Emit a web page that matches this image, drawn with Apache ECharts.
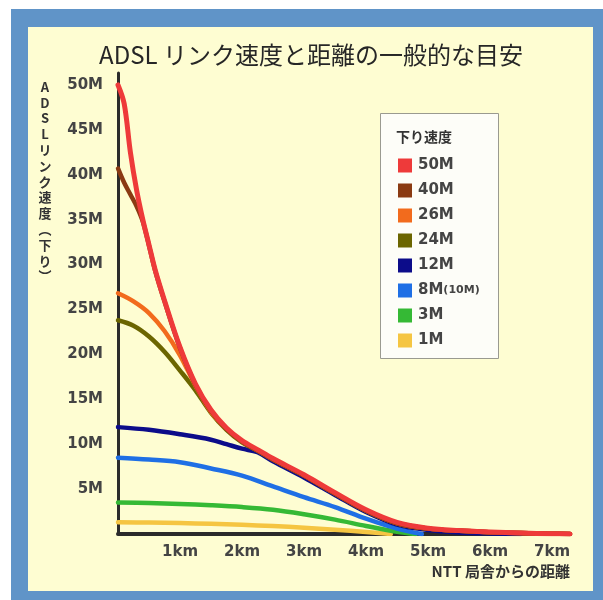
<!DOCTYPE html>
<html>
<head>
<meta charset="utf-8">
<script src="https://cdn.jsdelivr.net/npm/echarts@6/dist/echarts.min.js"></script>
<style>html,body{margin:0;padding:0;background:#fff;}#c{width:603px;height:600px;}</style>
</head>
<body>
<div id="c"></div>
<script>
const chartTitle = 'ADSL リンク速度と距離の一般的な目安';
const yAxisTitle = 'ADSLリンク速度︵下り︶';
const xAxisTitle = 'NTT 局舎からの距離';
const legendTitle = '下り速度';
const seriesNames = ['50M', '40M', '26M', '24M', '12M', '8M(10M)', '3M', '1M'];
const seriesColors = ['#ee3a3a', '#8a3a12', '#f26b1d', '#6b6500', '#0c0c8a', '#1f6fe5', '#35b935', '#f5c542'];

// [distance km, speed Mbps]
const s50M = [[0,50],[0.1,47.9],[0.2,42.5],[0.3,38.3],[0.4,35.0],[0.5,32.2],[0.6,29.4],[0.75,26.0],[1,20.8],[1.25,16.7],[1.5,13.8],[1.75,11.8],[2,10.4],[2.25,9.4],[2.5,8.4],[3,6.6],[3.5,4.6],[4,2.7],[4.5,1.3],[5,0.65],[5.5,0.38],[6,0.22],[6.5,0.1],[7,0.03],[7.29,0]];
const s40M = [[0,40.7],[0.1,39.1],[0.2,37.8],[0.3,36.5],[0.4,34.8],[0.5,32.1],[0.6,29.3],[0.75,25.9],[1,20.7],[1.25,16.6],[1.5,13.7],[1.75,11.7],[2,10.3],[2.25,9.3],[2.5,8.3],[3,6.5],[3.5,4.5],[4,2.6],[4.5,1.2],[5,0.6],[5.5,0.35],[6,0.2],[6.5,0.1],[7,0.03],[7.29,0]];
const s26M = [[0,26.8],[0.25,25.9],[0.5,24.6],[0.75,22.6],[1,19.9],[1.25,16.5],[1.5,13.6],[1.75,11.7],[2,10.3],[2.25,9.3],[2.5,8.3],[3,6.5],[3.5,4.5],[4,2.6],[4.5,1.2],[5,0.6],[5.5,0.35],[6,0.2],[6.5,0.1],[7,0.03],[7.29,0]];
const s24M = [[0,23.8],[0.25,23.2],[0.5,22.0],[0.75,20.3],[1,18.2],[1.25,16.0],[1.5,13.5],[1.75,11.6],[2,10.2],[2.25,9.3],[2.5,8.3],[3,6.5],[3.5,4.5],[4,2.6],[4.5,1.2],[5,0.6],[5.5,0.35],[6,0.2],[6.5,0.1],[7,0.03],[7.29,0]];
const s12M = [[0,11.9],[0.5,11.6],[1,11.1],[1.5,10.5],[1.75,10.0],[2,9.5],[2.25,9.1],[2.5,8.1],[3,6.3],[3.5,4.35],[4,2.45],[4.5,1.05],[5,0.45],[5.5,0.18],[6,0.06],[6.5,0]];
const s8M = [[0,8.5],[0.5,8.3],[1,8.0],[1.5,7.3],[2,6.5],[2.5,5.3],[3,4.1],[3.5,3.0],[4,1.7],[4.5,0.6],[4.9,0]];
const s3M = [[0,3.5],[0.5,3.45],[1,3.35],[1.5,3.2],[2,3.0],[2.5,2.7],[3,2.2],[3.5,1.6],[4,0.9],[4.5,0.25],[4.8,0]];
const s1M = [[0,1.3],[0.5,1.28],[1,1.22],[1.5,1.13],[2,1.02],[2.5,0.88],[3,0.7],[3.5,0.48],[4,0.22],[4.4,0]];
const seriesData = [s50M, s40M, s26M, s24M, s12M, s8M, s3M, s1M];
const lineWidths = [5, 4.5, 4.5, 4.5, 4.5, 4.5, 4.5, 4.5];

const xMax = 7.29, yMax = 51.33;

const chart = echarts.init(document.getElementById('c'), null, {renderer: 'canvas'});
const FONT = 'DejaVu Sans';

// draw red last (on top)
const order = [7, 6, 5, 4, 3, 2, 1, 0];
const series = order.map(i => ({
  name: seriesNames[i],
  type: 'line',
  data: seriesData[i],
  smooth: 0.35,
  showSymbol: false,
  symbol: 'none',
  lineStyle: {color: seriesColors[i], width: lineWidths[i], cap: 'round', join: 'round'},
  itemStyle: {color: seriesColors[i]},
  emphasis: {disabled: true},
  z: 3
}));

chart.setOption({
  animation: false,
  backgroundColor: '#ffffff',
  title: {
    text: chartTitle,
    left: 311, top: 41, textAlign: 'center', padding: 0,
    textStyle: {fontFamily: 'Noto Sans CJK JP', fontSize: 24, fontWeight: 'normal', color: '#262626', lineHeight: 28}
  },
  graphic: [
    {type: 'rect', z: -10, shape: {x: 11, y: 9, width: 592, height: 591}, style: {fill: '#6094c8'}},
    {type: 'rect', z: -9, shape: {x: 28, y: 27, width: 565, height: 564}, style: {fill: '#fefdd2'}},
    {type: 'rect', z: 1, shape: {x: 380.5, y: 113.5, width: 118, height: 245}, style: {fill: '#fdfdf8', stroke: '#9a9a90', lineWidth: 1}},
    {type: 'text', z: 5, x: 396, y: 137, style: {text: legendTitle, font: 'bold 14px "Noto Sans CJK JP"', fill: '#333', textVerticalAlign: 'middle', verticalAlign: 'middle'}},
    {type: 'text', z: 5, x: 45, y: 79, style: {text: yAxisTitle.split('').join('\n'), font: 'bold 13px "Noto Sans CJK JP"', fill: '#333', align: 'center', textAlign: 'center', lineHeight: 15.8}}
  ],
  legend: {
    orient: 'vertical',
    left: 398, top: 158,
    padding: 0,
    itemWidth: 14, itemHeight: 14, itemGap: 10,
    icon: 'rect',
    data: seriesNames,
    selectedMode: false,
    formatter: n => n === '8M(10M)' ? '8M{s|(10M)}' : n,
    textStyle: {fontFamily: FONT, fontSize: 15, fontWeight: 'bold', color: '#444', padding: [0, 0, 0, 1],
      rich: {s: {fontFamily: FONT, fontSize: 11, fontWeight: 'bold', color: '#444'}}}
  },
  grid: {left: 118, right: 33, top: 73, bottom: 66, containLabel: false},
  xAxis: {
    type: 'value', min: 0, max: xMax, interval: 1,
    name: xAxisTitle, nameLocation: 'end', nameGap: 0,
    nameTextStyle: {fontFamily: 'Noto Sans CJK JP', fontSize: 15, fontWeight: 'bold', color: '#333', align: 'right', verticalAlign: 'top', padding: [30, 0, 0, 0]},
    axisLine: {show: true, lineStyle: {color: '#2b2b2b', width: 4}},
    axisTick: {show: false},
    splitLine: {show: false},
    axisLabel: {margin: 11, fontFamily: FONT, fontSize: 15, fontWeight: 'bold', color: '#444',
      formatter: v => (v > 0 && Math.abs(v - Math.round(v)) < 1e-9) ? Math.round(v) + 'km' : ''}
  },
  yAxis: {
    type: 'value', min: 0, max: yMax, interval: 5,
    axisLine: {show: true, lineStyle: {color: '#2b2b2b', width: 3}},
    axisTick: {show: false},
    splitLine: {show: false},
    axisLabel: {margin: 15, fontFamily: FONT, fontSize: 15, fontWeight: 'bold', color: '#444',
      formatter: v => (v > 0 && Math.abs(v / 5 - Math.round(v / 5)) < 1e-9) ? Math.round(v) + 'M' : ''}
  },
  series: series
});
</script>
</body>
</html>
